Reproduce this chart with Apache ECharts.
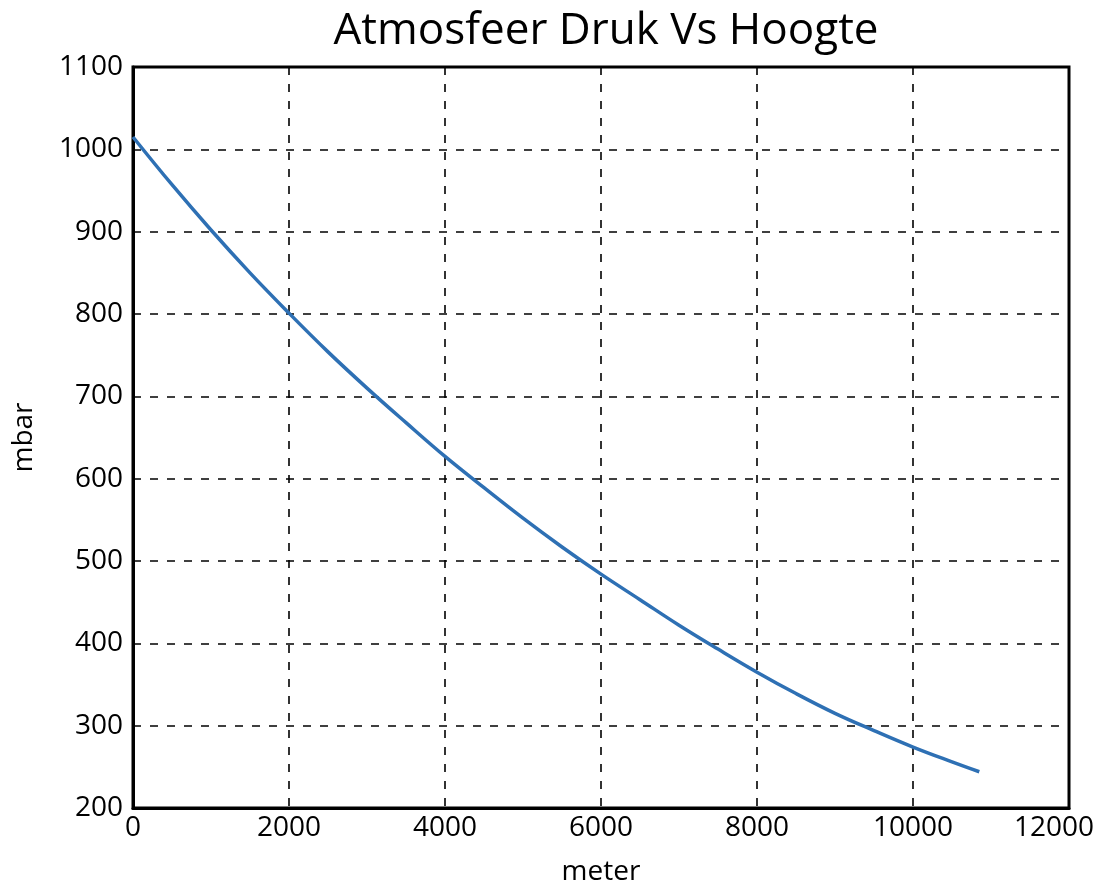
<!DOCTYPE html>
<html>
<head>
<meta charset="utf-8">
<script src="https://cdn.jsdelivr.net/npm/echarts@6/dist/echarts.min.js"></script>
<style>
html,body{margin:0;padding:0;background:#fff;}
#c{width:1104px;height:883px;}
</style>
</head>
<body>
<div id="c"></div>
<script>
const title = 'Atmosfeer Druk Vs Hoogte';
const xName = 'meter';
const yName = 'mbar';
const altitude = [0, 500, 1000, 1500, 2000, 2500, 3000, 3500, 4000, 4500, 5000, 5500, 6000, 6500, 7000, 7500, 8000, 8500, 9000, 9500, 10000, 10500, 10850];
const pressure = [1015, 957, 902, 850, 801, 754, 710, 668, 627, 589, 552, 517, 484, 453, 422, 393, 365, 339, 315, 294, 274, 256, 244];

const FONT = 'Open Sans';
const chart = echarts.init(document.getElementById('c'), null, {renderer: 'canvas'});
chart.setOption({
  animation: false,
  backgroundColor: '#fff',
  title: {
    text: title,
    left: 601, top: 4, textAlign: 'center',
    textStyle: {fontFamily: FONT, fontSize: 44, fontWeight: 'normal', color: '#000'}
  },
  grid: {
    left: 133, right: 35, top: 67, bottom: 75,
    outerBoundsMode: 'none',
    show: true, borderColor: '#000', borderWidth: 3, containLabel: false
  },
  xAxis: {
    type: 'value', min: 0, max: 12000, interval: 2000,
    name: xName, nameLocation: 'middle', nameGap: 50,
    nameTextStyle: {fontFamily: FONT, fontSize: 28, color: '#000'},
    axisLine: {show: true, lineStyle: {color: '#000', width: 3}},
    axisTick: {show: false},
    axisLabel: {
      fontFamily: FONT, fontSize: 28, color: '#000', margin: 6,
      formatter: v => v === 12000 ? '{r|' + v + '}' : String(v),
      rich: {r: {fontFamily: FONT, fontSize: 28, color: '#000', padding: [0, 30, 0, 0]}}
    },
    splitLine: {show: true, lineStyle: {color: '#000', width: 1.6, type: [8, 9]}}
  },
  yAxis: {
    type: 'value', min: 200, max: 1100, interval: 100,
    name: yName, nameLocation: 'middle', nameGap: 95, nameRotate: 90,
    nameTextStyle: {fontFamily: FONT, fontSize: 28, color: '#000'},
    axisLine: {show: true, lineStyle: {color: '#000', width: 3}},
    axisTick: {show: false},
    axisLabel: {fontFamily: FONT, fontSize: 28, color: '#000', margin: 10, formatter: v => String(v)},
    splitLine: {show: true, lineStyle: {color: '#000', width: 1.6, type: [8, 9]}}
  },
  series: [{
    type: 'line',
    data: altitude.map((a, i) => [a, pressure[i]]),
    smooth: 0.4,
    showSymbol: false,
    lineStyle: {color: '#2e70b4', width: 3.5}
  }]
});
</script>
</body>
</html>
